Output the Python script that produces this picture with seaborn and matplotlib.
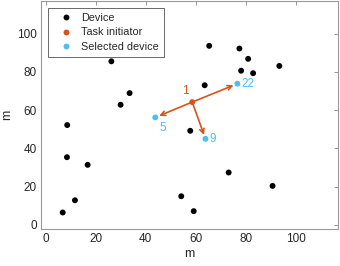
import matplotlib
matplotlib.use("Agg")
import matplotlib.pyplot as plt
import seaborn as sns
import pandas as pd

# Data
device_x = [26.2, 33.5, 29.9, 8.5, 8.4, 16.7, 11.6, 6.7, 65.4, 77.5, 81.0, 78.2,
            83.0, 93.5, 63.6, 57.8, 73.2, 90.8, 54.2, 59.2]
device_y = [85.5, 68.9, 62.8, 52.2, 35.4, 31.4, 12.9, 6.5, 93.6, 92.2, 86.8, 80.6,
            79.3, 83.1, 73.0, 49.2, 27.4, 20.4, 15.0, 7.2]
init_x = [58.6]
init_y = [64.2]
init_label = ["1"]
sel_x = [76.7, 43.8, 63.9]
sel_y = [73.8, 56.2, 45.0]
sel_labels = ["22", "5", "9"]
xticks = [0, 20, 40, 60, 80, 100]
yticks = [0, 20, 40, 60, 80, 100]

ORANGE = "#D95319"
CYAN = "#4DBEEE"

df = pd.DataFrame({
    "x": device_x + init_x + sel_x,
    "y": device_y + init_y + sel_y,
    "kind": ["Device"] * len(device_x) + ["Task initiator"] * len(init_x)
            + ["Selected device"] * len(sel_x),
})

sns.set_style("white")
plt.rcParams["font.family"] = ["Liberation Sans", "DejaVu Sans"]

fig = plt.figure(figsize=(3.4, 2.66), dpi=100)
ax = fig.add_axes([0.1206, 0.140, 0.8734, 0.856])

sns.scatterplot(data=df, x="x", y="y", hue="kind",
                palette={"Device": "black", "Task initiator": ORANGE,
                         "Selected device": CYAN},
                s=18, edgecolor="none", ax=ax, zorder=3)

for sx, sy in zip(sel_x, sel_y):
    ax.annotate("", xy=(sx, sy), xytext=(init_x[0], init_y[0]),
                arrowprops=dict(arrowstyle="->", color=ORANGE, lw=1.2,
                                shrinkA=0, shrinkB=3, mutation_scale=8),
                zorder=2)

ax.text(init_x[0] - 1.5, init_y[0] + 2.5, init_label[0], color=ORANGE,
        fontsize=8.5, ha="right", va="bottom")
ax.text(sel_x[0] + 1.5, sel_y[0], sel_labels[0], color=CYAN, fontsize=8.5,
        ha="left", va="center")
ax.text(sel_x[1] + 1.5, sel_y[1] - 2.5, sel_labels[1], color=CYAN, fontsize=8.5,
        ha="left", va="top")
ax.text(sel_x[2] + 1.5, sel_y[2], sel_labels[2], color=CYAN, fontsize=8.5,
        ha="left", va="center")

ax.set_xlim(-2, 117)
ax.set_ylim(-2, 117)
ax.set_xticks(xticks)
ax.set_yticks(yticks)
ax.set_xlabel("m", fontsize=9, color="#262626", labelpad=2)
ax.set_ylabel("m", fontsize=9, color="#262626", labelpad=3)
ax.tick_params(direction="in", length=3, width=0.6, color="#888888",
               labelsize=8.5, labelcolor="#262626", top=True, right=True,
               pad=3)
for sp in ax.spines.values():
    sp.set_color("#999999")
    sp.set_linewidth(0.8)

leg = ax.legend(loc="upper left", bbox_to_anchor=(0.024, 0.969), fontsize=7.8,
                frameon=True, fancybox=False, edgecolor="#262626",
                handletextpad=0.2, borderpad=0.45, labelspacing=0.4,
                handlelength=2.4, borderaxespad=0)
leg.get_frame().set_linewidth(0.6)
for t in leg.get_texts():
    t.set_color("#262626")

fig.savefig("out.png", dpi=100)
